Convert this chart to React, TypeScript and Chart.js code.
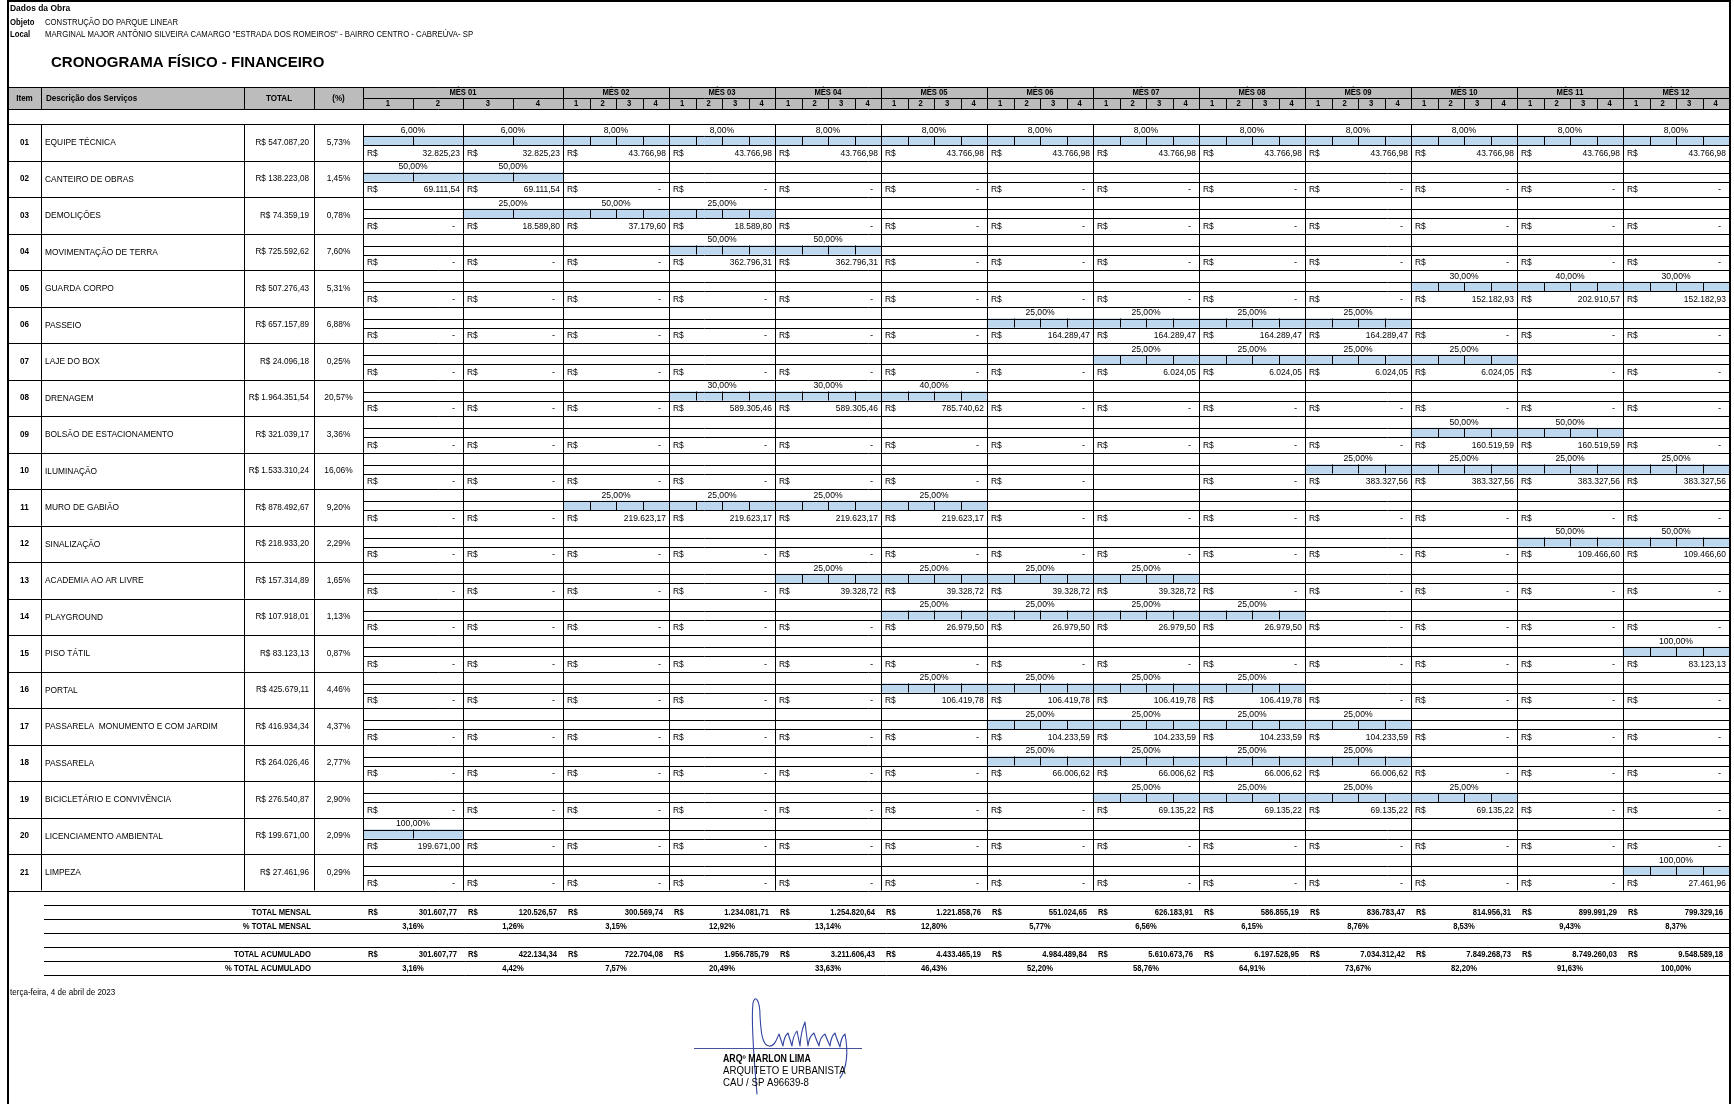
import { useEffect, useRef } from 'react';
import { Chart, registerables } from 'chart.js';

Chart.register(...registerables);

// ---------------- DATA ----------------
const infoHeading = 'Dados da Obra';
const objectLabel = 'Objeto';
const objectText = 'CONSTRUÇÃO DO PARQUE LINEAR';
const localLabel = 'Local';
const localText = 'MARGINAL MAJOR ANTÔNIO SILVEIRA CAMARGO "ESTRADA DOS ROMEIROS" - BAIRRO CENTRO - CABREÚVA- SP';
const sheetTitle = 'CRONOGRAMA FÍSICO - FINANCEIRO';
const headerLabels = ['Item', 'Descrição dos Serviços', 'TOTAL', '(%)'];

const monthLabels = ['MÊS 01', 'MÊS 02', 'MÊS 03', 'MÊS 04', 'MÊS 05', 'MÊS 06', 'MÊS 07', 'MÊS 08', 'MÊS 09', 'MÊS 10', 'MÊS 11', 'MÊS 12'];
// which month each billing column belongs to (MÊS 01 is billed in two halves)
const columnMonths = [0, 0, 1, 2, 3, 4, 5, 6, 7, 8, 9, 10, 11];
const columnWeeks = [
  ['1', '2'], ['3', '4'],
  ['1', '2', '3', '4'], ['1', '2', '3', '4'], ['1', '2', '3', '4'], ['1', '2', '3', '4'],
  ['1', '2', '3', '4'], ['1', '2', '3', '4'], ['1', '2', '3', '4'], ['1', '2', '3', '4'],
  ['1', '2', '3', '4'], ['1', '2', '3', '4'], ['1', '2', '3', '4'],
];

const itemCodes = ['01', '02', '03', '04', '05', '06', '07', '08', '09', '10', '11', '12', '13', '14', '15', '16', '17', '18', '19', '20', '21'];
const itemNames = [
  'EQUIPE TÉCNICA', 'CANTEIRO DE OBRAS', 'DEMOLIÇÕES', 'MOVIMENTAÇÃO DE TERRA', 'GUARDA CORPO',
  'PASSEIO', 'LAJE DO BOX', 'DRENAGEM', 'BOLSÃO DE ESTACIONAMENTO', 'ILUMINAÇÃO',
  'MURO DE GABIÃO', 'SINALIZAÇÃO', 'ACADEMIA AO AR LIVRE', 'PLAYGROUND', 'PISO TÁTIL',
  'PORTAL', 'PASSARELA  MONUMENTO E COM JARDIM', 'PASSARELA', 'BICICLETÁRIO E CONVIVÊNCIA',
  'LICENCIAMENTO AMBIENTAL', 'LIMPEZA',
];
const itemTotals = [
  547087.20, 138223.08, 74359.19, 725592.62, 507276.43, 657157.89, 24096.18, 1964351.54, 321039.17, 1533310.24,
  878492.67, 218933.20, 157314.89, 107918.01, 83123.13, 425679.11, 416934.34, 264026.46, 276540.87, 199671.00, 27461.96,
];
const itemShares = [5.73, 1.45, 0.78, 7.60, 5.31, 6.88, 0.25, 20.57, 3.36, 16.06, 9.20, 2.29, 1.65, 1.13, 0.87, 4.46, 4.37, 2.77, 2.90, 2.09, 0.29];

const _ = null;
// physical share of each item per billing column (null = no activity)
const itemPercents = [
  [6, 6, 8, 8, 8, 8, 8, 8, 8, 8, 8, 8, 8],
  [50, 50, _, _, _, _, _, _, _, _, _, _, _],
  [_, 25, 50, 25, _, _, _, _, _, _, _, _, _],
  [_, _, _, 50, 50, _, _, _, _, _, _, _, _],
  [_, _, _, _, _, _, _, _, _, _, 30, 40, 30],
  [_, _, _, _, _, _, 25, 25, 25, 25, _, _, _],
  [_, _, _, _, _, _, _, 25, 25, 25, 25, _, _],
  [_, _, _, 30, 30, 40, _, _, _, _, _, _, _],
  [_, _, _, _, _, _, _, _, _, _, 50, 50, _],
  [_, _, _, _, _, _, _, _, _, 25, 25, 25, 25],
  [_, _, 25, 25, 25, 25, _, _, _, _, _, _, _],
  [_, _, _, _, _, _, _, _, _, _, _, 50, 50],
  [_, _, _, _, 25, 25, 25, 25, _, _, _, _, _],
  [_, _, _, _, _, 25, 25, 25, 25, _, _, _, _],
  [_, _, _, _, _, _, _, _, _, _, _, _, 100],
  [_, _, _, _, _, 25, 25, 25, 25, _, _, _, _],
  [_, _, _, _, _, _, 25, 25, 25, 25, _, _, _],
  [_, _, _, _, _, _, 25, 25, 25, 25, _, _, _],
  [_, _, _, _, _, _, _, 25, 25, 25, 25, _, _],
  [100, _, _, _, _, _, _, _, _, _, _, _, _],
  [_, _, _, _, _, _, _, _, _, _, _, _, 100],
];
// financial amount per column (0 = "R$ -", null = empty cell)
const itemAmounts = [
  [32825.23, 32825.23, 43766.98, 43766.98, 43766.98, 43766.98, 43766.98, 43766.98, 43766.98, 43766.98, 43766.98, 43766.98, 43766.98],
  [69111.54, 69111.54, 0, 0, 0, 0, 0, 0, 0, 0, 0, 0, 0],
  [0, 18589.80, 37179.60, 18589.80, 0, 0, 0, 0, 0, 0, 0, 0, 0],
  [0, 0, 0, 362796.31, 362796.31, 0, 0, 0, 0, 0, 0, 0, 0],
  [0, 0, 0, 0, 0, 0, 0, 0, 0, 0, 152182.93, 202910.57, 152182.93],
  [0, 0, 0, 0, 0, 0, 164289.47, 164289.47, 164289.47, 164289.47, 0, 0, 0],
  [0, 0, 0, 0, 0, 0, 0, 6024.05, 6024.05, 6024.05, 6024.05, 0, 0],
  [0, 0, 0, 589305.46, 589305.46, 785740.62, 0, 0, 0, 0, 0, 0, 0],
  [0, 0, 0, 0, 0, 0, 0, 0, 0, 0, 160519.59, 160519.59, 0],
  [0, 0, 0, 0, 0, 0, 0, _, 0, 383327.56, 383327.56, 383327.56, 383327.56],
  [0, 0, 219623.17, 219623.17, 219623.17, 219623.17, 0, 0, 0, 0, 0, 0, 0],
  [0, 0, 0, 0, 0, 0, 0, 0, 0, 0, 0, 109466.60, 109466.60],
  [0, 0, 0, 0, 39328.72, 39328.72, 39328.72, 39328.72, 0, 0, 0, 0, 0],
  [0, 0, 0, 0, 0, 26979.50, 26979.50, 26979.50, 26979.50, 0, 0, 0, 0],
  [0, 0, 0, 0, 0, 0, 0, 0, 0, 0, 0, 0, 83123.13],
  [0, 0, 0, 0, 0, 106419.78, 106419.78, 106419.78, 106419.78, 0, 0, 0, 0],
  [0, 0, 0, 0, 0, 0, 104233.59, 104233.59, 104233.59, 104233.59, 0, 0, 0],
  [0, 0, 0, 0, 0, 0, 66006.62, 66006.62, 66006.62, 66006.62, 0, 0, 0],
  [0, 0, 0, 0, 0, 0, 0, 69135.22, 69135.22, 69135.22, 69135.22, 0, 0],
  [199671.00, 0, 0, 0, 0, 0, 0, 0, 0, 0, 0, 0, 0],
  [0, 0, 0, 0, 0, 0, 0, 0, 0, 0, 0, 0, 27461.96],
];

const summaryLabels = ['TOTAL MENSAL', '% TOTAL MENSAL', 'TOTAL ACUMULADO', '% TOTAL ACUMULADO'];
const monthlyTotals = [301607.77, 120526.57, 300569.74, 1234081.71, 1254820.64, 1221858.76, 551024.65, 626183.91, 586855.19, 836783.47, 814956.31, 899991.29, 799329.16];
const monthlyShares = [3.16, 1.26, 3.15, 12.92, 13.14, 12.80, 5.77, 6.56, 6.15, 8.76, 8.53, 9.43, 8.37];
const cumulativeTotals = [301607.77, 422134.34, 722704.08, 1956785.79, 3211606.43, 4433465.19, 4984489.84, 5610673.76, 6197528.95, 7034312.42, 7849268.73, 8749260.03, 9548589.18];
const cumulativeShares = [3.16, 4.42, 7.57, 20.49, 33.63, 46.43, 52.20, 58.76, 64.91, 73.67, 82.20, 91.63, 100.00];

const dateText = 'terça-feira, 4 de abril de 2023';
const signatureLines = ['ARQº MARLON LIMA', 'ARQUITETO E URBANISTA', 'CAU / SP A96639-8'];

// ---------------- LAYOUT / STYLE ----------------
const W = 1734;
const H = 1104;
const FRAME_L = 8;
const FRAME_R = 1729;
const FRAME_T = 1;
const X_ITEM = 41;
const X_DESC = 244;
const X_TOTAL = 314;
const X_MONTHS = 363;
const HEAD_TOP = 87;
const HEAD_MID = 98;
const HEAD_BOT = 109;
const ROWS_TOP = 124;
const ROW_H = 36.5;
const BAR_H = 9;
const BAR_CENTER_FROM_TOP = 16.5;
const SUM_LINES = [905, 919, 933, 947, 961, 975];
const SUM_LEFT = 44;
const FIRST_MONTH_W = 200;
const MONTH_W = 106;
const FONT = '"Liberation Sans", Arial, Helvetica, sans-serif';
const BAR_BLUE = '#BDD7EE';
const HEAD_GRAY = '#BCBCBC';

const fmtMoney = (v: number) => {
  const [i, d] = v.toFixed(2).split('.');
  return i.replace(/\B(?=(\d{3})+(?!\d))/g, '.') + ',' + d;
};
const fmtPct = (v: number) => v.toFixed(2).replace('.', ',') + '%';

function txt(ctx: any, s: string, x: number, y: number, size: number, o: any = {}) {
  ctx.save();
  ctx.font = `${o.bold ? 'bold ' : ''}${size}px ${FONT}`;
  ctx.fillStyle = o.color || '#000';
  ctx.textAlign = o.align || 'left';
  ctx.textBaseline = 'middle';
  ctx.translate(x, y);
  ctx.scale(o.sx ?? 1, 1);
  ctx.fillText(s, 0, 0);
  ctx.restore();
}
function hl(ctx: any, x1: number, x2: number, y: number, w = 1) {
  ctx.lineWidth = w;
  const yy = w % 2 === 1 ? Math.round(y) + 0.5 : Math.round(y);
  ctx.beginPath();
  ctx.moveTo(x1, yy);
  ctx.lineTo(x2, yy);
  ctx.stroke();
}
function vl(ctx: any, x: number, y1: number, y2: number, w = 1) {
  ctx.lineWidth = w;
  const xx = w % 2 === 1 ? Math.round(x) + 0.5 : Math.round(x);
  ctx.beginPath();
  ctx.moveTo(xx, y1);
  ctx.lineTo(xx, y2);
  ctx.stroke();
}

function drawSignature(ctx: any) {
  ctx.save();
  ctx.strokeStyle = '#44539c';
  hl(ctx, 694, 862, 1048);
  ctx.strokeStyle = '#3345a0';
  ctx.lineWidth = 1.1;
  ctx.lineJoin = 'round';
  ctx.lineCap = 'round';
  ctx.beginPath();
  ctx.moveTo(757, 1094);
  ctx.bezierCurveTo(754, 1060, 751, 1020, 753, 1003);
  ctx.bezierCurveTo(755, 994, 760, 1000, 760, 1016);
  ctx.bezierCurveTo(761, 1032, 762, 1045, 769, 1046);
  ctx.bezierCurveTo(775, 1047, 777, 1038, 779, 1034);
  const pts = [[783, 1046], [788, 1033], [792, 1046], [797, 1031], [800, 1046], [805, 1022], [808, 1046], [814, 1033], [819, 1046], [825, 1034], [830, 1046], [835, 1033], [840, 1047], [845, 1034]];
  let px = 779;
  let py = 1034;
  for (const [x, y] of pts) {
    ctx.quadraticCurveTo(px + 1, (py + y) / 2 - 3, x, y);
    px = x;
    py = y;
  }
  ctx.bezierCurveTo(848, 1050, 848, 1066, 840, 1078);
  ctx.stroke();
  ctx.restore();
}

const sheetPlugin = {
  id: 'sheet',
  beforeDraw(chart: any) {
    const { ctx } = chart;
    ctx.save();
    ctx.fillStyle = '#fff';
    ctx.fillRect(0, 0, chart.width, chart.height);
    ctx.fillStyle = HEAD_GRAY;
    ctx.fillRect(FRAME_L, HEAD_TOP, FRAME_R - FRAME_L, HEAD_BOT - HEAD_TOP);
    ctx.restore();
  },
  afterDatasetsDraw(chart: any) {
    const { ctx } = chart;
    const xa = chart.scales.xa;
    const xb = chart.scales.xb;
    const ys = chart.scales.y;
    const px = (v: number) => (v <= 2 ? xa.getPixelForValue(v) : xb.getPixelForValue(v));
    const nCols = columnMonths.length;
    const band = ys.getPixelForValue(1) - ys.getPixelForValue(0);
    const center = (i: number) => ys.getPixelForValue(i);
    const rowTop = (i: number) => center(i) - BAR_CENTER_FROM_TOP;

    ctx.save();
    ctx.strokeStyle = '#000';

    // ---- top info ----
    txt(ctx, infoHeading, 10, 8, 9.2, { bold: true, sx: 0.92 });
    txt(ctx, objectLabel, 10, 22.5, 8.6, { bold: true, sx: 0.9 });
    txt(ctx, objectText, 45, 22.5, 8.6, { sx: 0.9 });
    txt(ctx, localLabel, 10, 34.5, 8.6, { bold: true, sx: 0.9 });
    txt(ctx, localText, 45, 34.5, 8.6, { sx: 0.9 });
    txt(ctx, sheetTitle, 51, 63, 15, { bold: true });

    // ---- header ----
    hl(ctx, FRAME_L, FRAME_R, HEAD_TOP);
    hl(ctx, FRAME_L, FRAME_R, HEAD_BOT);
    hl(ctx, X_MONTHS, FRAME_R, HEAD_MID);
    [X_ITEM, X_DESC, X_TOTAL, X_MONTHS].forEach((x) => vl(ctx, x, HEAD_TOP, HEAD_BOT));
    for (let c = 1; c < nCols; c++) {
      if (columnMonths[c] !== columnMonths[c - 1]) vl(ctx, px(c), HEAD_TOP, HEAD_BOT);
      else vl(ctx, px(c), HEAD_MID, HEAD_BOT);
    }
    const hy = (HEAD_TOP + HEAD_BOT) / 2;
    txt(ctx, headerLabels[0], (FRAME_L + X_ITEM) / 2, hy, 9.2, { bold: true, align: 'center', sx: 0.88 });
    txt(ctx, headerLabels[1], X_ITEM + 5, hy, 9.2, { bold: true, sx: 0.88 });
    txt(ctx, headerLabels[2], (X_DESC + X_TOTAL) / 2, hy, 9.2, { bold: true, align: 'center', sx: 0.88 });
    txt(ctx, headerLabels[3], (X_TOTAL + X_MONTHS) / 2, hy, 9.2, { bold: true, align: 'center', sx: 0.88 });
    monthLabels.forEach((m, mi) => {
      const cols = columnMonths.map((v, c) => (v === mi ? c : -1)).filter((c) => c >= 0);
      const l = px(cols[0]);
      const r = px(cols[cols.length - 1] + 1);
      txt(ctx, m, (l + r) / 2, (HEAD_TOP + HEAD_MID) / 2 + 0.5, 9, { bold: true, align: 'center', sx: 0.85 });
    });
    columnWeeks.forEach((weeks, c) => {
      const n = weeks.length;
      for (let k = 1; k < n; k++) vl(ctx, px(c + k / n), HEAD_MID, HEAD_BOT);
      weeks.forEach((w, k) => {
        txt(ctx, w, px(c + (k + 0.5) / n), (HEAD_MID + HEAD_BOT) / 2 + 0.5, 9, { bold: true, align: 'center', sx: 0.85 });
      });
    });

    // ---- item rows ----
    itemCodes.forEach((code, i) => {
      const top = rowTop(i);
      const bot = top + band;
      const cy = center(i);
      const bTop = cy - BAR_H / 2;
      const bBot = cy + BAR_H / 2;
      hl(ctx, FRAME_L, FRAME_R, top);
      hl(ctx, X_MONTHS, FRAME_R, bTop);
      hl(ctx, X_MONTHS, FRAME_R, bBot);
      [X_ITEM, X_DESC, X_TOTAL, X_MONTHS].forEach((x) => vl(ctx, x, top, bot));
      for (let c = 1; c < nCols; c++) vl(ctx, px(c), top, bot);
      const mid = (top + bot) / 2;
      txt(ctx, code, (FRAME_L + X_ITEM) / 2, mid, 9, { bold: true, align: 'center', sx: 0.9 });
      txt(ctx, itemNames[i], X_ITEM + 4, mid + 0.5, 8.4);
      txt(ctx, 'R$ ' + fmtMoney(itemTotals[i]), X_TOTAL - 5, mid, 8.6, { align: 'right', sx: 0.95 });
      txt(ctx, fmtPct(itemShares[i]), (X_TOTAL + X_MONTHS) / 2, mid, 8.4, { align: 'center' });
      const pctY = (top + bTop) / 2 + 0.5;
      const valY = (bBot + bot) / 2 + 0.5;
      for (let c = 0; c < nCols; c++) {
        const l = px(c);
        const r = px(c + 1);
        const p = itemPercents[i][c];
        if (p != null) {
          const n = columnWeeks[c].length;
          for (let k = 1; k < n; k++) vl(ctx, px(c + k / n), bTop, bBot);
          txt(ctx, fmtPct(p), (l + r) / 2, pctY, 8.6, { align: 'center' });
        }
        const a = itemAmounts[i][c];
        if (a != null) {
          txt(ctx, 'R$', l + 4, valY, 9.4, { sx: 0.9 });
          if (a) txt(ctx, fmtMoney(a), r - 3, valY, 9.4, { align: 'right', sx: 0.9 });
          else txt(ctx, '-', r - 8, valY, 9.4, { align: 'right' });
        }
      }
      if (i === itemCodes.length - 1) hl(ctx, FRAME_L, FRAME_R, bot);
    });

    // ---- summary ----
    SUM_LINES.forEach((y) => hl(ctx, SUM_LEFT, FRAME_R, y));
    const sumRows = [
      { y: (SUM_LINES[0] + SUM_LINES[1]) / 2, label: summaryLabels[0], money: monthlyTotals },
      { y: (SUM_LINES[1] + SUM_LINES[2]) / 2, label: summaryLabels[1], pct: monthlyShares },
      { y: (SUM_LINES[3] + SUM_LINES[4]) / 2, label: summaryLabels[2], money: cumulativeTotals },
      { y: (SUM_LINES[4] + SUM_LINES[5]) / 2, label: summaryLabels[3], pct: cumulativeShares },
    ];
    sumRows.forEach((row: any) => {
      txt(ctx, row.label, 311, row.y + 0.5, 9, { bold: true, align: 'right', sx: 0.85 });
      for (let c = 0; c < nCols; c++) {
        const l = px(c);
        const r = px(c + 1);
        if (row.money) {
          txt(ctx, 'R$', l + 5, row.y + 0.5, 9, { bold: true, sx: 0.85 });
          txt(ctx, fmtMoney(row.money[c]), r - 6, row.y + 0.5, 9, { bold: true, align: 'right', sx: 0.85 });
        } else {
          txt(ctx, fmtPct(row.pct[c]), (l + r) / 2, row.y + 0.5, 9, { bold: true, align: 'center', sx: 0.85 });
        }
      }
    });

    // ---- footer ----
    txt(ctx, dateText, 10, 992, 9.4, { sx: 0.86 });
    drawSignature(ctx);
    txt(ctx, signatureLines[0], 723, 1059, 10, { bold: true, sx: 0.88 });
    txt(ctx, signatureLines[1], 723, 1071, 10.4, { sx: 0.93 });
    txt(ctx, signatureLines[2], 723, 1083.5, 10.4, { sx: 0.93 });

    // ---- frame ----
    vl(ctx, FRAME_L, 0, H, 2);
    vl(ctx, FRAME_R + 1, 0, H, 2);
    hl(ctx, FRAME_L, FRAME_R + 1, FRAME_T, 2);
    ctx.restore();
  },
};

export default function App() {
  const ref = useRef<HTMLCanvasElement>(null);
  useEffect(() => {
    const canvas = ref.current;
    if (!canvas) return;
    const datasets = columnMonths.map((_m, c) => ({
      label: `col${c}`,
      data: itemPercents.map((row) => (row[c] != null ? [c, c + 1] : null)),
      xAxisID: c < 2 ? 'xa' : 'xb',
      backgroundColor: BAR_BLUE,
      borderWidth: 0,
      barThickness: BAR_H,
      grouped: false,
    }));
    const rowsBottom = ROWS_TOP + ROW_H * itemCodes.length;
    const shift = ROW_H / 2 - BAR_CENTER_FROM_TOP;
    const chart = new Chart(canvas, {
      type: 'bar',
      data: { labels: itemCodes, datasets: datasets as any },
      options: {
        responsive: false,
        animation: false,
        devicePixelRatio: 1,
        indexAxis: 'y',
        events: [],
        layout: {
          padding: {
            left: X_MONTHS,
            right: W - FRAME_R,
            top: ROWS_TOP - shift,
            bottom: H - rowsBottom + shift,
          },
        },
        plugins: { legend: { display: false }, tooltip: { enabled: false }, title: { display: false } },
        scales: {
          xa: { type: 'linear', axis: 'x', position: 'bottom', min: 0, max: 2, display: false, stack: 'cols', stackWeight: FIRST_MONTH_W },
          xb: { type: 'linear', axis: 'x', position: 'bottom', min: 2, max: 13, display: false, stack: 'cols', stackWeight: MONTH_W * 11 },
          y: { type: 'category', display: false, offset: true, grid: { display: false } },
        } as any,
      } as any,
      plugins: [sheetPlugin],
    });
    return () => chart.destroy();
  }, []);
  return (
    <div style={{ position: 'absolute', left: 0, top: 0, width: W, height: H, background: '#fff' }}>
      <canvas ref={ref} width={W} height={H} style={{ display: 'block', width: W, height: H }} />
    </div>
  );
}
